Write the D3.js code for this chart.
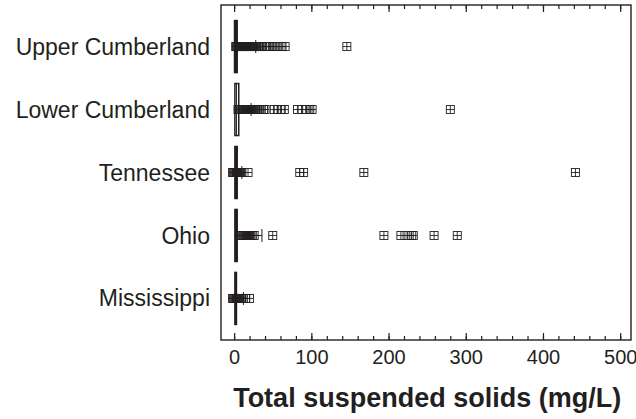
<!DOCTYPE html>
<html>
<head>
<meta charset="utf-8">
<script src="https://cdn.jsdelivr.net/npm/d3@7"></script>
<style>
  body { margin: 0; background: #fff; }
  text { font-family: "Liberation Sans", Arial, sans-serif; fill: #231f20; }
</style>
</head>
<body>
<div id="chart"></div>
<script>
// basins, top to bottom
var basins = ["Upper Cumberland", "Lower Cumberland", "Tennessee", "Ohio", "Mississippi"];

// box stats (mg/L): q1, median, q3, whisker low, whisker high
var q1 = [0.5, 1, 1, 1, 1];
var median = [2, 3, 2, 2, 2];
var q3 = [4, 6, 4, 4, 3];
var whiskLo = [0, 0, 0, 0, 0];
var whiskHi = [28, 22, 10, 36, 12];

// outliers
var outUpper = [2, 3, 4, 5, 6, 7, 8, 9, 10, 11, 12, 13, 14, 15, 16, 17, 18, 19, 20, 21, 22, 23, 24, 25, 26, 27,
  29, 31, 33, 36, 39, 42, 46, 50, 54, 58, 62, 66, 146];
var outLower = [5, 7, 8, 10, 11, 12, 13, 14, 15, 16, 17, 18, 19, 20, 21, 22, 23, 24, 26, 28, 30, 32, 35, 38, 40,
  52, 56, 61, 65, 82, 88, 94, 98, 101, 280];
var outTennessee = [-2, -1, 0, 1, 2, 3, 4, 5, 6, 7, 8, 9, 10, 18, 85, 90, 168, 442];
var outOhio = [9, 11, 12, 13, 14, 15, 16, 17, 18, 19, 20, 22, 24, 26, 50, 194, 216, 224, 230, 232, 259, 289];
var outMississippi = [-2, -1, 0, 1, 2, 3, 4, 5, 6, 8, 10, 12, 15, 20];
var outliers = [outUpper, outLower, outTennessee, outOhio, outMississippi];

var xTicks = [0, 100, 200, 300, 400, 500];
var xMinor = d3.range(0, 520, 20);

var svgWidth = 636, svgHeight = 419;
var margin = { top: 5, right: 5, bottom: 79, left: 221 };
var width = svgWidth - margin.left - margin.right;
var height = svgHeight - margin.top - margin.bottom;

var svg = d3.select("#chart").append("svg")
  .attr("width", svgWidth)
  .attr("height", svgHeight);

var g = svg.append("g")
  .attr("transform", `translate(${margin.left}, ${margin.top})`);

var x = d3.scaleLinear().domain([-17, 514]).range([0, width]);
var y = d3.scalePoint().domain(basins).range([0, height]).padding(0.66);

// frame
g.append("rect")
  .attr("width", width).attr("height", height)
  .attr("fill", "none").attr("stroke", "#231f20").attr("stroke-width", 1.4);

// bottom ticks (inward)
g.append("g")
  .attr("transform", `translate(0, ${height})`)
  .call(d3.axisBottom(x).tickValues(xMinor).tickSize(-4).tickFormat(""))
  .call(a => a.select(".domain").remove())
  .call(a => a.selectAll("line").attr("stroke", "#231f20").attr("stroke-width", 1.2));
g.append("g")
  .attr("transform", `translate(0, ${height})`)
  .call(d3.axisBottom(x).tickValues(xTicks).tickSize(-7).tickPadding(10))
  .call(a => a.select(".domain").remove())
  .call(a => a.selectAll("line").attr("stroke", "#231f20").attr("stroke-width", 1.2))
  .call(a => a.selectAll("text").attr("font-size", 20).attr("fill", "#231f20"));

// top ticks (mirror)
g.append("g")
  .call(d3.axisTop(x).tickValues(xMinor).tickSize(-4).tickFormat(""))
  .call(a => a.select(".domain").remove())
  .call(a => a.selectAll("line").attr("stroke", "#231f20").attr("stroke-width", 1.2));
g.append("g")
  .call(d3.axisTop(x).tickValues(xTicks).tickSize(-7).tickFormat(""))
  .call(a => a.select(".domain").remove())
  .call(a => a.selectAll("line").attr("stroke", "#231f20").attr("stroke-width", 1.2));

// category labels
g.selectAll(".cat").data(basins).enter().append("text")
  .attr("class", "cat")
  .attr("x", -11)
  .attr("y", d => y(d))
  .attr("dy", "0.35em")
  .attr("text-anchor", "end")
  .attr("font-size", 23)
  .text(d => d);

var boxH = 52, capH = 13, mk = 8;

basins.forEach(function(b, i) {
  var cy = y(b);
  var row = g.append("g");

  // whisker
  row.append("line")
    .attr("x1", x(whiskLo[i])).attr("x2", x(whiskHi[i]))
    .attr("y1", cy).attr("y2", cy)
    .attr("stroke", "#231f20").attr("stroke-width", 1);
  row.append("line")
    .attr("x1", x(whiskHi[i])).attr("x2", x(whiskHi[i]))
    .attr("y1", cy - capH / 2).attr("y2", cy + capH / 2)
    .attr("stroke", "#231f20").attr("stroke-width", 1);

  // box
  row.append("rect")
    .attr("x", x(q1[i]))
    .attr("width", x(q3[i]) - x(q1[i]))
    .attr("y", cy - boxH / 2)
    .attr("height", boxH)
    .attr("fill", i === 1 ? "none" : "#231f20")
    .attr("stroke", "#231f20").attr("stroke-width", 1.5);
  row.append("line")
    .attr("x1", x(median[i])).attr("x2", x(median[i]))
    .attr("y1", cy - boxH / 2).attr("y2", cy + boxH / 2)
    .attr("stroke", "#231f20").attr("stroke-width", 1);

  // outlier markers: square with cross
  var m = row.selectAll(".out").data(outliers[i]).enter().append("g")
    .attr("class", "out")
    .attr("transform", d => `translate(${x(d)}, ${cy})`);
  m.append("rect")
    .attr("x", -mk / 2).attr("y", -mk / 2)
    .attr("width", mk).attr("height", mk)
    .attr("fill", "none").attr("stroke", "#231f20").attr("stroke-width", 0.9);
  m.append("path")
    .attr("d", `M${-mk / 2},0H${mk / 2}M0,${-mk / 2}V${mk / 2}`)
    .attr("stroke", "#231f20").attr("stroke-width", 0.9);
});

// axis title
svg.append("text")
  .attr("x", margin.left + x(250))
  .attr("y", 407)
  .attr("text-anchor", "middle")
  .attr("font-size", 27)
  .attr("font-weight", "bold")
  .text("Total suspended solids (mg/L)");
</script>
</body>
</html>
